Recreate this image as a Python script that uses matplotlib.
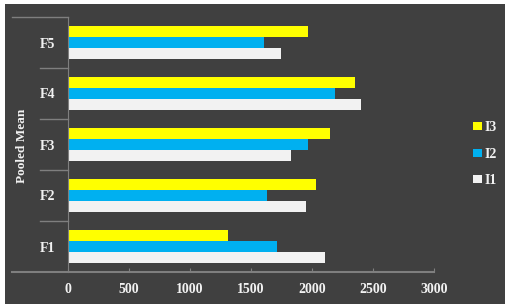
import numpy as np
import matplotlib
matplotlib.use('Agg')
import matplotlib.pyplot as plt
from matplotlib.patches import Rectangle
from matplotlib.lines import Line2D
import matplotlib.transforms as mtransforms

categories = ['F1', 'F2', 'F3', 'F4', 'F5']
series_names = ['I1', 'I2', 'I3']
i1_values = [2110, 1950, 1830, 2405, 1745]
i2_values = [1715, 1635, 1965, 2190, 1610]
i3_values = [1310, 2035, 2150, 2350, 1970]
x_ticks = [0, 500, 1000, 1500, 2000, 2500, 3000]
y_label = 'Pooled Mean'

colors = {'I1': '#f2f2f2', 'I2': '#00b0f0', 'I3': '#ffff00'}
bg = '#404040'
line_col = '#7f7f7f'
txt_col = '#f2f2f2'

plt.rcParams['font.family'] = ['Liberation Serif', 'DejaVu Serif']
plt.rcParams['font.weight'] = 'bold'

fig = plt.figure(figsize=(5.08, 3.07), dpi=100)
fig.patch.set_facecolor('white')
fig.add_artist(Rectangle((5 / 508, 3 / 307), 500 / 508, 300 / 307,
                         transform=fig.transFigure, facecolor=bg,
                         edgecolor='none', zorder=-10))

ax = fig.add_axes([68 / 508, 1 - 272 / 307, 366 / 508, 255 / 307])
ax.set_facecolor('none')

y = np.arange(len(categories))
h = 0.222
for off, name, vals in [(-h, 'I1', i1_values), (0, 'I2', i2_values), (h, 'I3', i3_values)]:
    ax.barh(y + off, vals, height=h, color=colors[name], label=name, zorder=2)

ax.set_xlim(0, 3000)
ax.set_ylim(-0.5, len(categories) - 0.5)
ax.set_xticks(x_ticks)
ax.set_xticklabels([str(t) for t in x_ticks])
ax.set_yticks(y)
ax.set_yticklabels(categories)

for s in ['top', 'right']:
    ax.spines[s].set_visible(False)
ax.spines['left'].set_color(line_col)
ax.spines['bottom'].set_visible(False)

ax.tick_params(axis='x', colors=line_col, direction='in', length=3, pad=8,
               labelcolor=txt_col, labelsize=10)
ax.tick_params(axis='y', length=0, pad=9, labelcolor=txt_col, labelsize=10)

# category separators and outer group lines
tr = mtransforms.blended_transform_factory(ax.transAxes, ax.transData)
x_far = (12 - 68) / 366
x_near = (40 - 68) / 366
for b in np.arange(0.5, len(categories) - 1, 1.0):
    ax.add_line(Line2D([x_near, 0], [b, b], transform=tr, color=line_col,
                       lw=1, clip_on=False))
ax.add_line(Line2D([x_far, 0], [len(categories) - 0.5] * 2, transform=tr,
                   color=line_col, lw=1, clip_on=False))
ax.add_line(Line2D([x_far, 1], [-0.5, -0.5], transform=tr, color=line_col,
                   lw=1.5, clip_on=False))

fig.text(22 / 508, 1 - 146 / 307, y_label, rotation=90, color=txt_col,
         fontsize=9.5, fontweight='bold', ha='center', va='center')

handles, labels = ax.get_legend_handles_labels()
leg = ax.legend(handles[::-1], labels[::-1], loc='center left',
                bbox_to_anchor=(467 / 508, 1 - 154 / 307),
                bbox_transform=fig.transFigure, frameon=False,
                handlelength=0.7, handleheight=0.5, handletextpad=0.15,
                labelspacing=0.95, fontsize=10, borderaxespad=0)
for t in leg.get_texts():
    t.set_color(txt_col)

fig.savefig('out.png', dpi=100, facecolor=fig.get_facecolor())
